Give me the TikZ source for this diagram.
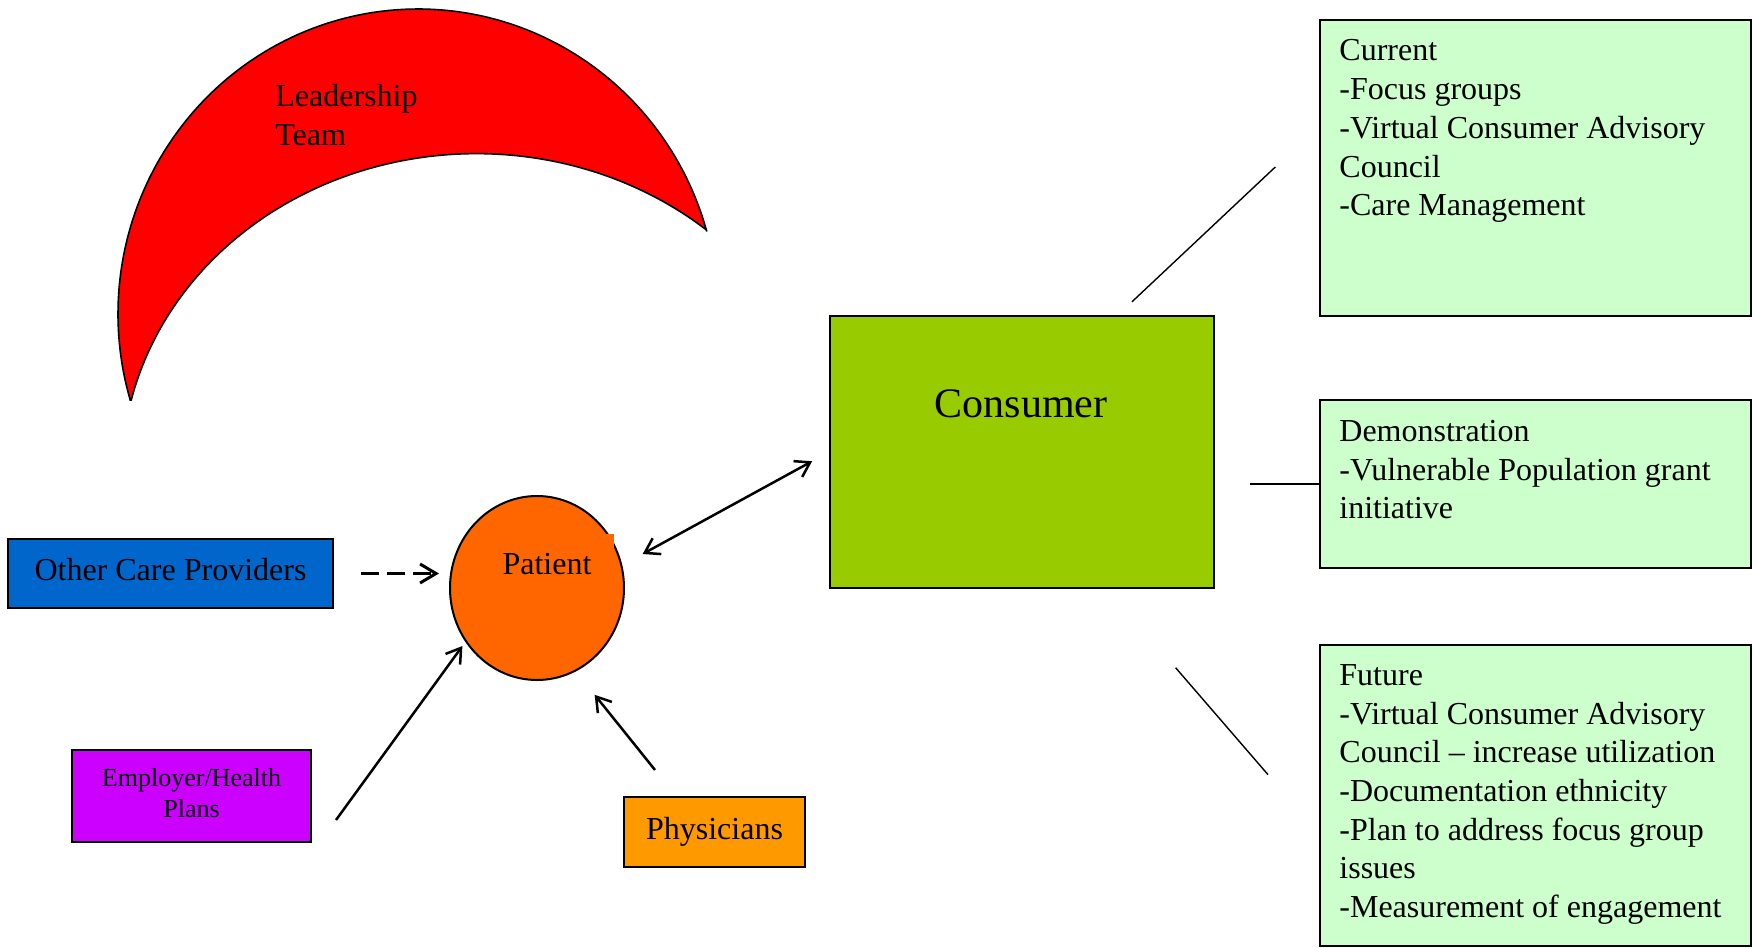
\documentclass[tikz,border=0pt]{standalone}
\usepackage{fontspec}
\setmainfont{Liberation Serif}
\usetikzlibrary{arrows.meta, positioning, shapes.geometric}
\definecolor{leadRed}{HTML}{FF0000}
\definecolor{provBlue}{HTML}{0066CC}
\definecolor{patOrange}{HTML}{FF6600}
\definecolor{consGreen}{HTML}{99CC00}
\definecolor{empPurple}{HTML}{CC00FF}
\definecolor{physOrange}{HTML}{FF9900}
\definecolor{noteGreen}{HTML}{CCFFCC}
\tikzset{
  every node/.style={font=\fontsize{16}{19.35}\selectfont, text=black},
  actor/.style={rectangle, draw=black, line width=1pt, inner sep=0pt, align=center},
  patient/.style={ellipse, draw=black, line width=1pt, fill=patOrange, inner sep=0pt,
                  minimum width=87pt, minimum height=92pt},
  notebox/.style={rectangle, draw=black, line width=1pt, fill=noteGreen,
                  minimum width=215.5pt},
  notetext/.style={inner sep=0pt, align=left},
  arr/.style={-{Straight Barb[length=7pt, width=9pt]}, line width=1.25pt},
  dblarr/.style={{Straight Barb[length=7pt, width=9pt]}-{Straight Barb[length=7pt, width=9pt]}, line width=1.25pt},
  dasharr/.style={-{Straight Barb[length=8pt, width=9.5pt]}, line width=1.5pt, dash pattern=on 9pt off 4pt},
  link/.style={line width=0.7pt},
}

\begin{document}
\begin{tikzpicture}[x=0.5pt, y=-0.5pt]
\useasboundingbox (0,0) rectangle (1758,948);

% --- leadership crescent: outer and inner elliptic arcs ---
\filldraw[fill=leadRed, draw=black, line width=0.8pt]
  plot[domain=-196.4:-15.7, samples=60, smooth, variable=\t] ({418+300*cos(\t)}, {314+305*sin(\t)})
  -- plot[domain=49.6:166.7, samples=60, smooth, variable=\t] ({476.5+354.8*cos(\t)}, {473.6-320*sin(\t)})
  -- cycle;
\node[notetext, anchor=north west] (lead) at (275,84) {Leadership\\Team};

% --- actors round the patient ---
\node[actor, fill=provBlue, minimum width=162.5pt, minimum height=34.5pt] (ocp) at (170.5,573.5)
  {\raisebox{4pt}{Other Care Providers}};
\node[patient] (pat) at (537,588) {};
\fill[patOrange] (603,534) rectangle (614,552);
\node (patlbl) at (547,564) {Patient};
\node[actor, fill=empPurple, minimum width=119.5pt, minimum height=46pt,
      font=\fontsize{13}{15.5}\selectfont] (emp) at (191.5,796)
  {\raisebox{2.5pt}{\begin{tabular}{@{}c@{}}Employer/Health\\Plans\end{tabular}}};
\node[actor, fill=physOrange, minimum width=90.5pt, minimum height=35pt] (phy) at (714.5,832) {Physicians};

% --- consumer ---
\node[actor, fill=consGreen, minimum width=192pt, minimum height=136pt] (con) at (1022,452) {};
\node[font=\fontsize{21}{25}\selectfont] (conlbl) at (1021,404) {Consumer};

% --- note boxes ---
\node[notebox, minimum height=148pt] (cur) at (1535.5,168) {};
\node[notetext, below right=10.2pt and 10pt of cur.north west]
  {Current\\-Focus groups\\-Virtual Consumer Advisory\\Council\\-Care Management};
\node[notebox, minimum height=84pt] (dem) at (1535.5,484) {};
\node[notetext, below right=10.5pt and 10pt of dem.north west]
  {Demonstration\\-Vulnerable Population grant\\initiative};
\node[notebox, minimum height=150.5pt] (fut) at (1535.5,795.5) {};
\node[notetext, below right=10pt and 10pt of fut.north west]
  {Future\\-Virtual Consumer Advisory\\Council -- increase utilization\\-Documentation ethnicity\\-Plan to address focus group\\issues\\-Measurement of engagement};

% --- arrows ---
\coordinate (empTail) at (336,820);
\draw[dasharr, shorten <=13.5pt, shorten >=5pt] (ocp.east) -- (ocp.east -| pat.west);
\draw[arr, shorten >=2.5pt] (empTail) -- (pat.217);
\draw[arr, shorten <=16.7pt, shorten >=15pt] (phy.137) -- (pat.295);
\draw[dblarr, shorten <=11.6pt, shorten >=9.6pt] (pat.15) -- (con.west);

% --- lines to the notes ---
\draw[link, shorten <=9.6pt, shorten >=30pt] (con.55) -- (cur.169);
\draw[link, shorten >=17.5pt] (dem.west) -- (dem.west -| con.east);
\draw[link, shorten <=52pt, shorten >=39pt] (con.302) -- (fut.190.6);
\end{tikzpicture}
\end{document}
